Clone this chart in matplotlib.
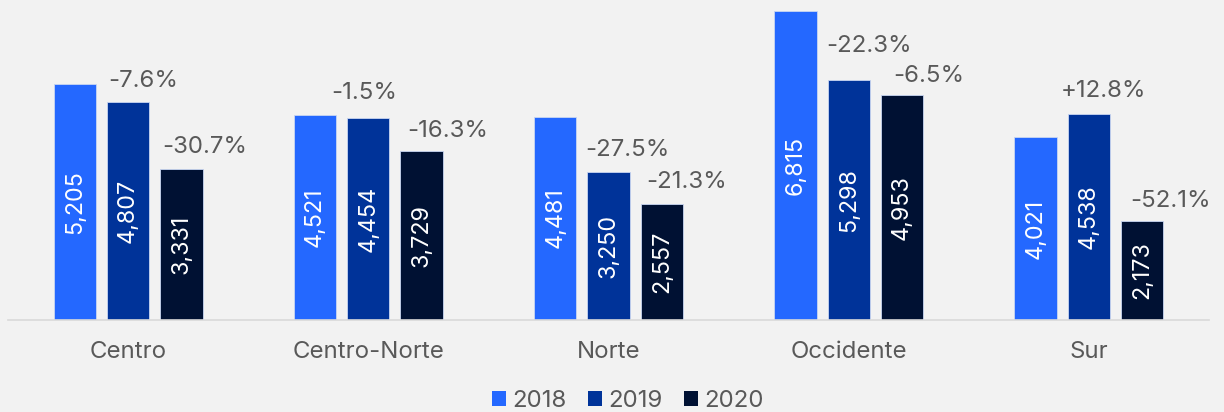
import numpy as np
import matplotlib
matplotlib.use("Agg")
import matplotlib.pyplot as plt
from matplotlib.patches import Patch

# data
regions = ["Centro", "Centro-Norte", "Norte", "Occidente", "Sur"]
years = ["2018", "2019", "2020"]
v2018 = [5205, 4521, 4481, 6815, 4021]
v2019 = [4807, 4454, 3250, 5298, 4538]
v2020 = [3331, 3729, 2557, 4953, 2173]
chg2019 = ["-7.6%", "-1.5%", "-27.5%", "-22.3%", "+12.8%"]
chg2020 = ["-30.7%", "-16.3%", "-21.3%", "-6.5%", "-52.1%"]

# style
colors = ["#2468FF", "#003399", "#001133"]
TXT = "#595959"
BG = "#F2F2F2"
FS = 17.3
W = 0.176
STEP = 0.222
# label nudges in pixels (dx, gap above bar), hand placed in the original
off2019 = [(15, 15), (-4, 19), (19, 16), (20, 28), (15, 17)]
off2020 = [(23, 16), (26, 14), (25, 16), (27, 13), (28, 14)]

plt.rcParams['font.family'] = ['Inter', 'DejaVu Sans']

fig = plt.figure(figsize=(12.24, 4.12), dpi=100, facecolor=BG)
ax = fig.add_axes([8 / 1224, 92.5 / 412, 1201 / 1224, 319.5 / 412])
ax.set_facecolor(BG)

x = np.arange(len(regions))
series = [v2018, v2019, v2020]
bars = []
for i, vals in enumerate(series):
    b = ax.bar(x + (i - 1) * STEP, vals, W, color=colors[i],
               edgecolor="#C9D6F2", linewidth=0.6, zorder=2)
    bars.append(b)
    for rect, v in zip(b, vals):
        ax.text(rect.get_x() + rect.get_width() / 2, v / 2, f"{v:,}",
                rotation=90, ha="center", va="center", color="white",
                fontsize=FS - 0.5, zorder=3)

for b, labels, offs in [(bars[1], chg2019, off2019), (bars[2], chg2020, off2020)]:
    for rect, lab, (dx, dy) in zip(b, labels, offs):
        ax.annotate(lab, (rect.get_x() + rect.get_width() / 2, rect.get_height()),
                    xytext=(dx, dy), textcoords="offset pixels",
                    ha="center", va="baseline", color=TXT, fontsize=FS,
                    annotation_clip=False)

ax.set_xlim(-0.5, 4.5)
ax.set_ylim(0, 7058)
ax.set_xticks(x)
ax.set_xticklabels(regions, fontsize=FS, color=TXT)
ax.tick_params(axis="x", length=0, pad=15.5)
ax.set_yticks([])
for s in ["top", "left", "right"]:
    ax.spines[s].set_visible(False)
ax.spines["bottom"].set_color("#D9D9D9")
ax.spines["bottom"].set_linewidth(1.2)

handles = [Patch(facecolor=c, edgecolor="none") for c in colors]
fig.legend(handles, years, loc="lower center", bbox_to_anchor=(628 / 1224, -0.04),
           ncol=3, frameon=False, fontsize=FS, labelcolor=TXT,
           handlelength=0.58, handleheight=0.58, handletextpad=0.25,
           columnspacing=0.9, borderpad=0.2)

fig.savefig("out.png", dpi=100, facecolor=BG)
